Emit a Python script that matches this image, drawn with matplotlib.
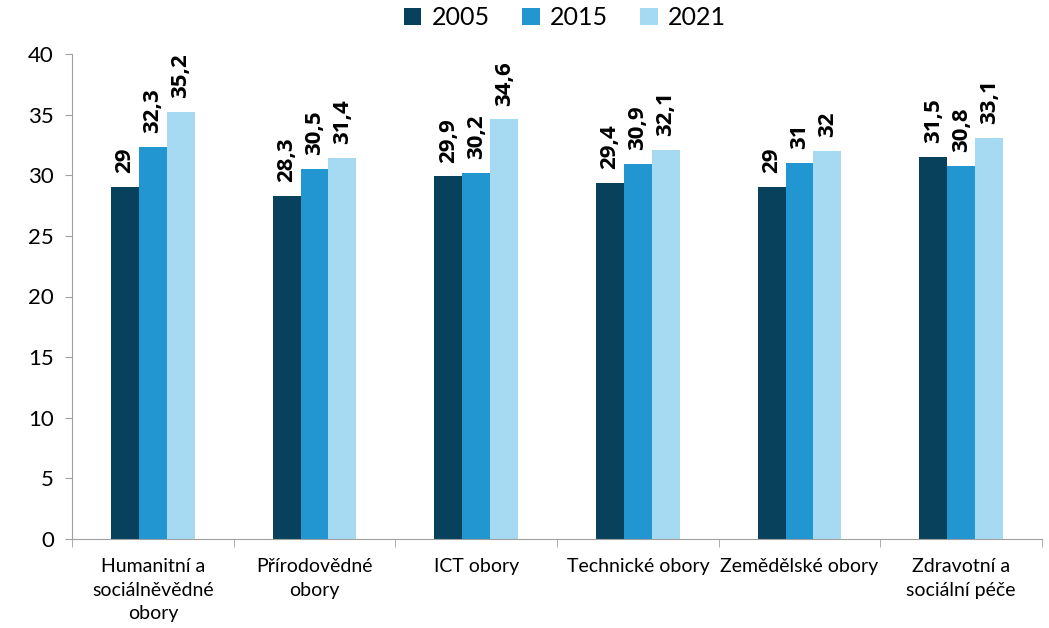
import matplotlib
matplotlib.use("Agg")
import matplotlib.pyplot as plt
import numpy as np

categories = ["Humanitní a\nsociálněvědné\nobory", "Přírodovědné\nobory", "ICT obory",
              "Technické obory", "Zemědělské obory", "Zdravotní a\nsociální péče"]
series_names = ["2005", "2015", "2021"]
v2005 = [29, 28.3, 29.9, 29.4, 29, 31.5]
v2015 = [32.3, 30.5, 30.2, 30.9, 31, 30.8]
v2021 = [35.2, 31.4, 34.6, 32.1, 32, 33.1]
colors = ["#08415C", "#2196D1", "#A6DAF2"]

plt.rcParams['font.family'] = ['Lato', 'DejaVu Sans']

fig = plt.figure(figsize=(10.49, 6.28), dpi=100)
ax = fig.add_axes([72/1049, 89/628, (1042-72)/1049, (539-54)/628])

x = np.arange(len(categories))
w = 0.173
for i, (vals, name, c) in enumerate(zip([v2005, v2015, v2021], series_names, colors)):
    pos = x + (i - 1) * w
    ax.bar(pos, vals, width=w, color=c, label=name)
    for p, v in zip(pos, vals):
        lbl = f"{v:g}".replace(".", ",")
        ax.annotate(lbl, (p, v), xytext=(0, 10), textcoords="offset points",
                    rotation=90, ha="center", va="bottom",
                    fontsize=16, fontweight="bold", family=["Open Sans", "DejaVu Sans"],
                    color="black")

ax.set_xlim(-0.5, len(categories) - 0.5)
ax.set_ylim(0, 40)
ax.set_yticks(range(0, 41, 5))
ax.tick_params(axis="y", labelsize=16, length=5, color="#A0A0A0", pad=8)
ax.set_xticks(x)
ax.set_xticklabels(categories, fontsize=14, linespacing=1.45)
ax.tick_params(axis="x", length=0, pad=14)
ax.set_xticks(np.arange(-0.5, len(categories), 1), minor=True)
ax.tick_params(axis="x", which="minor", length=6, color="#A0A0A0")
for s in ["top", "right"]:
    ax.spines[s].set_visible(False)
for s in ["left", "bottom"]:
    ax.spines[s].set_color("#A0A0A0")

ax.legend(loc="upper center", bbox_to_anchor=(0.508, 1.145), ncol=3, frameon=False,
          fontsize=18, handlelength=0.7, handleheight=0.7, handletextpad=0.4,
          columnspacing=1.3)

fig.savefig("out.png", dpi=100)
